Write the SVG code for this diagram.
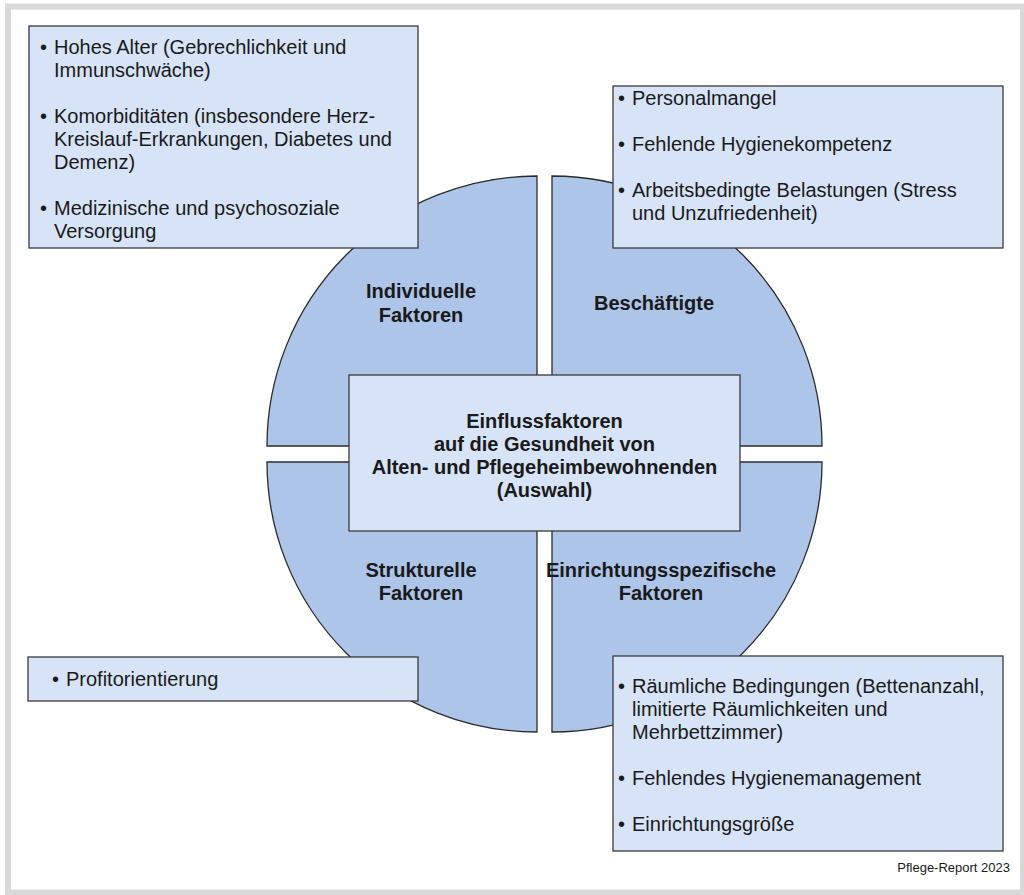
<svg xmlns="http://www.w3.org/2000/svg" width="1024" height="895" viewBox="0 0 1024 895">
<style>
.frame{fill:#ffffff;stroke:#d9d9d9;stroke-width:6}
.quad{fill:#adc5e9;stroke:#2b2b2b;stroke-width:1.3}
.box{fill:#d7e3f6;stroke:#3a3a3a;stroke-width:1.3}
.t{font-family:"Liberation Sans",Arial,sans-serif;font-size:20px;fill:#1a1a1a}
.b{font-family:"Liberation Sans",Arial,sans-serif;font-size:20px;font-weight:bold;fill:#1a1a1a;text-anchor:middle}
.src{font-family:"Liberation Sans",Arial,sans-serif;font-size:13px;fill:#1a1a1a;text-anchor:end}
</style>
<rect class="frame" x="8" y="6.5" width="1015" height="886"/>
<g id="quadrants">
<g id="q-individuell">
<path class="quad" d="M537,446 L267,446 A270,270 0 0 1 537,176 Z"/>
<text class="b" x="421" y="298">Individuelle</text>
<text class="b" x="421" y="322">Faktoren</text>
</g>
<g id="q-beschaeftigte">
<path class="quad" d="M552,446 L552,176 A270,270 0 0 1 822,446 Z"/>
<text class="b" x="654" y="310">Beschäftigte</text>
</g>
<g id="q-strukturell">
<path class="quad" d="M537,462 L537,732 A270,270 0 0 1 267,462 Z"/>
<text class="b" x="421" y="577">Strukturelle</text>
<text class="b" x="421" y="600">Faktoren</text>
</g>
<g id="q-einrichtung">
<path class="quad" d="M552,462 L822,462 A270,270 0 0 1 552,732 Z"/>
<text class="b" x="661" y="577">Einrichtungsspezifische</text>
<text class="b" x="661" y="600">Faktoren</text>
</g>
</g>
<g id="connectors"></g>
<g id="center">
<rect class="box" x="349" y="375" width="391" height="156"/>
<text class="b" x="544.5" y="428">Einflussfaktoren</text>
<text class="b" x="544.5" y="451">auf die Gesundheit von</text>
<text class="b" x="544.5" y="474">Alten- und Pflegeheimbewohnenden</text>
<text class="b" x="544.5" y="497">(Auswahl)</text>
</g>
<g id="box-individuell">
<rect class="box" x="29" y="26" width="389" height="222"/>
<text class="t" x="40" y="54">•</text><text class="t" x="54" y="54">Hohes Alter (Gebrechlichkeit und</text>
<text class="t" x="54" y="77">Immunschwäche)</text>
<text class="t" x="40" y="123">•</text><text class="t" x="54" y="123">Komorbiditäten (insbesondere Herz-</text>
<text class="t" x="54" y="146">Kreislauf-Erkrankungen, Diabetes und</text>
<text class="t" x="54" y="169">Demenz)</text>
<text class="t" x="40" y="215">•</text><text class="t" x="54" y="215">Medizinische und psychosoziale</text>
<text class="t" x="54" y="238">Versorgung</text>
</g>
<g id="box-beschaeftigte">
<rect class="box" x="613" y="86" width="390" height="162"/>
<text class="t" x="618" y="105">•</text><text class="t" x="632" y="105">Personalmangel</text>
<text class="t" x="618" y="151">•</text><text class="t" x="632" y="151">Fehlende Hygienekompetenz</text>
<text class="t" x="618" y="197">•</text><text class="t" x="632" y="197">Arbeitsbedingte Belastungen (Stress</text>
<text class="t" x="632" y="220">und Unzufriedenheit)</text>
</g>
<g id="box-strukturell">
<rect class="box" x="28" y="657" width="390" height="44"/>
<text class="t" x="52" y="686">•</text><text class="t" x="66" y="686">Profitorientierung</text>
</g>
<g id="box-einrichtung">
<rect class="box" x="613" y="656" width="390" height="195"/>
<text class="t" x="618" y="693">•</text><text class="t" x="632" y="693">Räumliche Bedingungen (Bettenanzahl,</text>
<text class="t" x="632" y="716">limitierte Räumlichkeiten und</text>
<text class="t" x="632" y="739">Mehrbettzimmer)</text>
<text class="t" x="618" y="785">•</text><text class="t" x="632" y="785">Fehlendes Hygienemanagement</text>
<text class="t" x="618" y="831">•</text><text class="t" x="632" y="831">Einrichtungsgröße</text>
</g>
<text class="src" x="1010" y="872">Pflege-Report 2023</text>
</svg>
